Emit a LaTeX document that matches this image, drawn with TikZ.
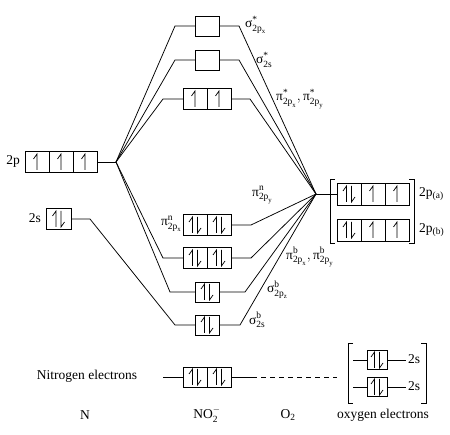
\documentclass[tikz,border=0pt]{standalone}
\usepackage{amsmath}
\usepackage{fontspec}
\setmainfont{Liberation Serif}
\newcommand{\gk}[1]{\text{#1}}
\begin{document}
\begin{tikzpicture}[x=1pt,y=-1pt,
  cell/.style={draw, line width=0.9pt, minimum width=24pt, minimum height=21pt, inner sep=0pt, outer sep=0pt},
  scell/.style={cell, minimum height=20pt},
  tcell/.style={cell, minimum width=20pt, minimum height=19pt},
  conn/.style={line width=0.75pt},
  arr/.style={line width=0.7pt, line join=miter},
  txt/.style={font=\fontsize{13.5}{15}\selectfont, inner sep=0pt},
  mlbl/.style={font=\fontsize{13.5}{15}\selectfont, inner sep=0pt},
  pics/up/.style={code={\draw[arr] (0,8) -- (0,-8) -- (-3.5,-3);}},
  pics/pair/.style={code={\draw[arr] (-2.5,8) -- (-2.5,-8) -- (-6,-3);
                          \draw[arr] (2.5,-8) -- (2.5,8) -- (6,3);}}]
\useasboundingbox (0,0) rectangle (450,435);

% focal points
\coordinate (Nf) at (116,162);
\coordinate (Of) at (316,194);

% Nitrogen atomic orbitals
\node[cell] (n2p1) at (37,162) {};
\node[cell] (n2p2) at (61,162) {};
\node[cell] (n2p3) at (85,162) {};
\foreach \c in {n2p1,n2p2,n2p3} \pic at (\c) {up};
\node[txt] (l2p) at (13,161) {2p};
\node[cell, minimum width=25pt] (n2s) at (58.5,219) {};
\pic at (n2s) {pair};
\node[txt] (l2s) at (35,218) {2s};
\coordinate (n2sk) at (90,219);

% Oxygen atomic orbitals
\node[cell, minimum height=22pt] (oa1) at (349,194) {};
\node[cell, minimum height=22pt] (oa2) at (373,194) {};
\node[cell, minimum height=22pt] (oa3) at (397,194) {};
\node[cell, minimum height=22pt] (ob1) at (349,230) {};
\node[cell, minimum height=22pt] (ob2) at (373,230) {};
\node[cell, minimum height=22pt] (ob3) at (397,230) {};
\pic at (oa1) {pair}; \pic at (oa2) {up}; \pic at (oa3) {up};
\pic at (ob1) {pair}; \pic at (ob2) {up}; \pic at (ob3) {up};
\draw[conn] (335,179) -- (330,179) -- (330,243) -- (335,243);
\draw[conn] (409,179) -- (414,179) -- (414,243) -- (409,243);
\node[mlbl, anchor=west] (l2pa) at (419,194) {2p$_{\gk{(a)}}$};
\node[mlbl, anchor=west] (l2pb) at (419,230) {2p$_{\gk{(b)}}$};
\draw[conn] (Of) -- (oa1.west);

% Molecular orbitals
\node[scell] (ssx) at (207,26) {};
\node[scell] (sss) at (207,60) {};
\node[cell] (pis1) at (195,99) {};
\node[cell] (pis2) at (219,99) {};
\pic at (pis1) {up}; \pic at (pis2) {up};
\node[cell] (pin1) at (195,225) {};
\node[cell] (pin2) at (219,225) {};
\pic at (pin1) {pair}; \pic at (pin2) {pair};
\node[cell] (pib1) at (195,258) {};
\node[cell] (pib2) at (219,258) {};
\pic at (pib1) {pair}; \pic at (pib2) {pair};
\node[scell] (sbp) at (207,292) {};
\pic at (sbp) {pair};
\node[scell] (sbs) at (207,325) {};
\pic at (sbs) {pair};

% knees
\coordinate (ssxL) at (175,26);  \coordinate (ssxR) at (239,26);
\coordinate (sssL) at (175,60);  \coordinate (sssR) at (239,60);
\coordinate (pisL) at (163,99);  \coordinate (pisR) at (250,99);
\coordinate (pinR) at (251,225);
\coordinate (pibL) at (163,258); \coordinate (pibR) at (251,258);
\coordinate (sbpL) at (170,292); \coordinate (sbpR) at (245,292);
\coordinate (sbsL) at (175,325); \coordinate (sbsR) at (240,325);

% connectors, nitrogen side
\draw[conn] (n2p3.east) -- (Nf);
\draw[conn] (Nf) -- (ssxL) -- (ssx.west);
\draw[conn] (Nf) -- (sssL) -- (sss.west);
\draw[conn] (Nf) -- (pisL) -- (pis1.west);
\draw[conn] (Nf) -- (pibL) -- (pib1.west);
\draw[conn] (Nf) -- (sbpL) -- (sbp.west);
\draw[conn] (n2s.east) -- (n2sk) -- (sbsL) -- (sbs.west);

% connectors, oxygen side
\draw[conn] (ssx.east) -- (ssxR) -- (Of);
\draw[conn] (sss.east) -- (sssR) -- (Of);
\draw[conn] (pis2.east) -- (pisR) -- (Of);
\draw[conn] (pin2.east) -- (pinR) -- (Of);
\draw[conn] (pib2.east) -- (pibR) -- (Of);
\draw[conn] (sbp.east) -- (sbpR) -- (Of);
\draw[conn] (sbs.east) -- (sbsR) -- (Of);

% MO labels
\node[mlbl, anchor=west] (lssx) at (245,25) {$\gk{σ}^{\gk{*}}_{\gk{2p}_{\gk{x}}}$};
\node[mlbl, anchor=west] (lsss) at (256,60) {$\gk{σ}^{\gk{*}}_{\gk{2s}}$};
\node[mlbl, anchor=west] (lpis) at (276,99) {$\gk{π}^{\gk{*}}_{\gk{2p}_{\gk{x}}},\gk{π}^{\gk{*}}_{\gk{2p}_{\gk{y}}}$};
\node[mlbl, anchor=west] (lpiny) at (252,195) {$\gk{π}^{\gk{n}}_{\gk{2p}_{\gk{y}}}$};
\node[mlbl, anchor=east] (lpinx) at (182,224) {$\gk{π}^{\gk{n}}_{\gk{2p}_{\gk{x}}}$};
\node[mlbl, anchor=west] (lpib) at (286,257) {$\gk{π}^{\gk{b}}_{\gk{2p}_{\gk{x}}},\gk{π}^{\gk{b}}_{\gk{2p}_{\gk{y}}}$};
\node[mlbl, anchor=west] (lsbp) at (267,290) {$\gk{σ}^{\gk{b}}_{\gk{2p}_{\gk{z}}}$};
\node[mlbl, anchor=west] (lsbs) at (249,320) {$\gk{σ}^{\gk{b}}_{\gk{2s}}$};

% bottom: nitrogen electrons
\node[txt] (lne) at (87,376) {Nitrogen electrons};
\node[scell] (ne1) at (195,377) {};
\node[scell] (ne2) at (219,377) {};
\pic at (ne1) {pair}; \pic at (ne2) {pair};
\coordinate (neL) at (163,377);
\coordinate (neR) at (252,377);
\coordinate (neD) at (337,377);
\draw[conn] (neL) -- (ne1.west);
\draw[conn] (ne2.east) -- (neR);
\draw[conn, dash pattern=on 5pt off 4pt] (neR) -- (neD);

% bottom: oxygen electrons
\node[tcell] (oe1) at (377,360) {};
\node[tcell] (oe2) at (377,387) {};
\pic at (oe1) {pair}; \pic at (oe2) {pair};
\coordinate (oe1L) at (353,360); \coordinate (oe1R) at (406,360);
\coordinate (oe2L) at (353,387); \coordinate (oe2R) at (406,387);
\draw[conn] (oe1L) -- (oe1.west); \draw[conn] (oe1.east) -- (oe1R);
\draw[conn] (oe2L) -- (oe2.west); \draw[conn] (oe2.east) -- (oe2R);
\node[txt, anchor=west] (loe1) at (408,359) {2s};
\node[txt, anchor=west] (loe2) at (408,386) {2s};
\draw[conn] (353,343) -- (348,343) -- (348,403) -- (353,403);
\draw[conn] (421,343) -- (426,343) -- (426,403) -- (421,403);

% bottom labels
\node[txt] (lN) at (85,415) {N};
\node[txt] (lNO) at (207,415) {NO$_{\gk{2}}^{-}$};
\node[txt] (lO2) at (288,415) {O$_{\gk{2}}$};
\node[txt] (lox) at (383,415) {oxygen electrons};
\end{tikzpicture}
\end{document}
